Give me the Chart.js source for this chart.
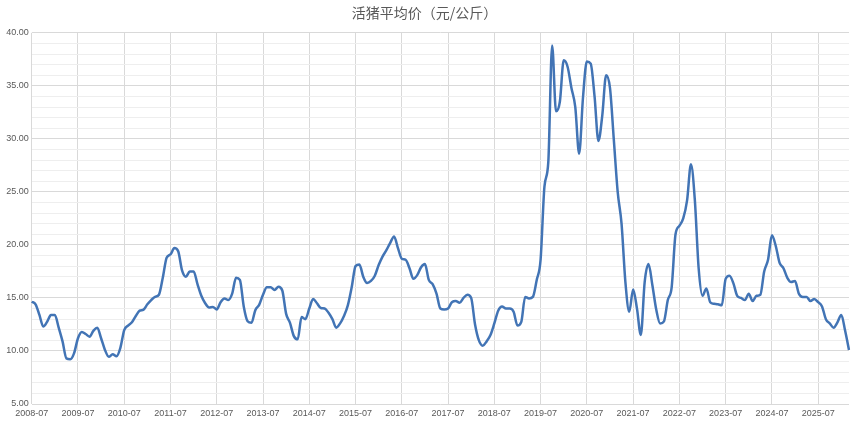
<!DOCTYPE html>
<html>
  <head>
    <title>活猪平均价</title>
    <script src="https://cdn.jsdelivr.net/npm/chart.js"></script>
    <style>
      body { margin: 0; background: #fff; }
      #wrap { width: 859px; height: 425px; }
    </style>
  </head>

  <body>
    <div id="wrap"><canvas id="myChart"></canvas></div>

    <script>
      // monthly average live hog price, yuan/kg, starting 2008-07
      var startYear = 2008;
      var startMonth = 7;
      var prices = [
        14.64, 14.4, 13.4, 12.3, 12.75, 13.38, 13.38, 12.2, 10.9, 9.3, 9.22, 9.8,
        11.2, 11.8, 11.6, 11.35, 11.9, 12.2, 11.2, 10.1, 9.45, 9.69, 9.5, 10.3,
        11.97, 12.4, 12.7, 13.3, 13.8, 13.9, 14.4, 14.8, 15.1, 15.3, 16.9, 18.8,
        19.1, 19.7, 19.4, 17.6, 17.0, 17.5, 17.5, 16.3, 15.2, 14.5, 14.1, 14.15,
        13.92, 14.6, 14.95, 14.8, 15.4, 16.9, 16.7, 14.2, 12.8, 12.65, 13.85, 14.35,
        15.3, 16.0, 16.0, 15.75, 16.05, 15.7, 13.5, 12.65, 11.4, 11.1, 13.2, 13.0,
        14.0, 14.9, 14.5, 14.05, 14.0, 13.6, 13.0, 12.2, 12.6, 13.3, 14.3, 16.0,
        18.0, 18.15, 17.0, 16.4, 16.6, 17.1, 18.1, 18.9, 19.5, 20.2, 20.8, 19.7,
        18.7, 18.6, 17.8, 16.8, 17.15, 17.9, 18.2, 16.7, 16.3, 15.4, 14.0, 13.9,
        14.0, 14.6, 14.7, 14.55, 15.0, 15.3, 15.0, 12.5, 11.0, 10.5, 10.9, 11.5,
        12.6, 13.8, 14.2, 14.0, 14.0, 13.7, 12.4, 12.75, 15.1, 14.95, 15.1, 16.7,
        18.6, 25.5, 27.8, 38.8, 32.6, 33.5, 37.4, 36.8, 34.8, 33.0, 28.6, 33.9,
        37.3, 37.1, 34.0, 29.8, 32.2, 36.0, 34.8, 29.9, 25.0, 22.0, 16.5, 13.7,
        15.8, 14.0, 11.5, 16.5, 18.2, 16.2, 13.9, 12.6, 12.8, 14.8, 16.0, 21.0,
        21.8, 22.5, 24.2, 27.6, 24.3, 17.8, 15.2, 15.9, 14.6, 14.45, 14.4, 14.3,
        16.8, 17.1, 16.4, 15.2, 15.0, 14.8, 15.4, 14.7, 15.2, 15.3, 17.5, 18.6,
        20.9, 19.9, 18.3, 17.8, 16.9, 16.5, 16.6, 15.4, 15.1, 15.1, 14.7, 14.9,
        14.6, 14.2, 13.0, 12.6, 12.2, 12.7, 13.4, 11.9, 10.1
      ];

      var months = [];
      for (var i = 0; i < prices.length; i++) {
        var t = startMonth - 1 + i;
        var yy = startYear + Math.floor(t / 12);
        var mm = (t % 12) + 1;
        months.push(yy + "-" + (mm < 10 ? "0" + mm : mm));
      }

      var gridMajor = "#d9d9d9";
      var gridMinor = "#eeeeee";
      var textColor = "#595959";

      var ctx = document.getElementById("myChart").getContext("2d");
      var chart = new Chart(ctx, {
        type: "line",
        data: {
          labels: months,
          datasets: [
            {
              label: "活猪平均价",
              data: prices,
              borderColor: "#4274b5",
              borderWidth: 2.5,
              pointRadius: 0,
              cubicInterpolationMode: "monotone",
              fill: false,
            },
          ],
        },
        options: {
          responsive: true,
          maintainAspectRatio: false,
          animation: false,
          layout: { padding: { left: 0, right: 10, top: 0, bottom: 0 } },
          plugins: {
            legend: { display: false },
            tooltip: { enabled: false },
            title: {
              display: true,
              text: "活猪平均价（元/公斤）",
              color: textColor,
              font: { family: "'Noto Sans CJK SC'", size: 14, weight: "normal" },
              padding: { top: 4, bottom: 12 },
            },
          },
          scales: {
            x: {
              offset: false,
              border: { display: false },
              grid: {
                drawTicks: false,
                color: function (c) {
                  var lab = months[c.index];
                  return lab && lab.slice(5) === "07" ? gridMajor : "rgba(0,0,0,0)";
                },
              },
              ticks: {
                autoSkip: false,
                maxRotation: 0,
                padding: 4,
                color: textColor,
                font: { family: "'Liberation Sans'", size: 9 },
                callback: function (v, idx) {
                  var lab = months[idx];
                  return lab.slice(5) === "07" ? lab : "";
                },
              },
              afterFit: function (s) { s.height = 21; },
            },
            y: {
              min: 5,
              max: 40,
              border: { display: false },
              grid: {
                drawTicks: false,
                color: function (c) {
                  return c.tick.value % 5 === 0 ? gridMajor : gridMinor;
                },
              },
              ticks: {
                stepSize: 1,
                autoSkip: false,
                padding: 3,
                color: textColor,
                font: { family: "'Liberation Sans'", size: 9 },
                callback: function (v) {
                  return v % 5 === 0 ? v.toFixed(2) : "";
                },
              },
              afterFit: function (s) { s.width = 31.7; },
            },
          },
        },
      });
    </script>
  </body>
</html>
